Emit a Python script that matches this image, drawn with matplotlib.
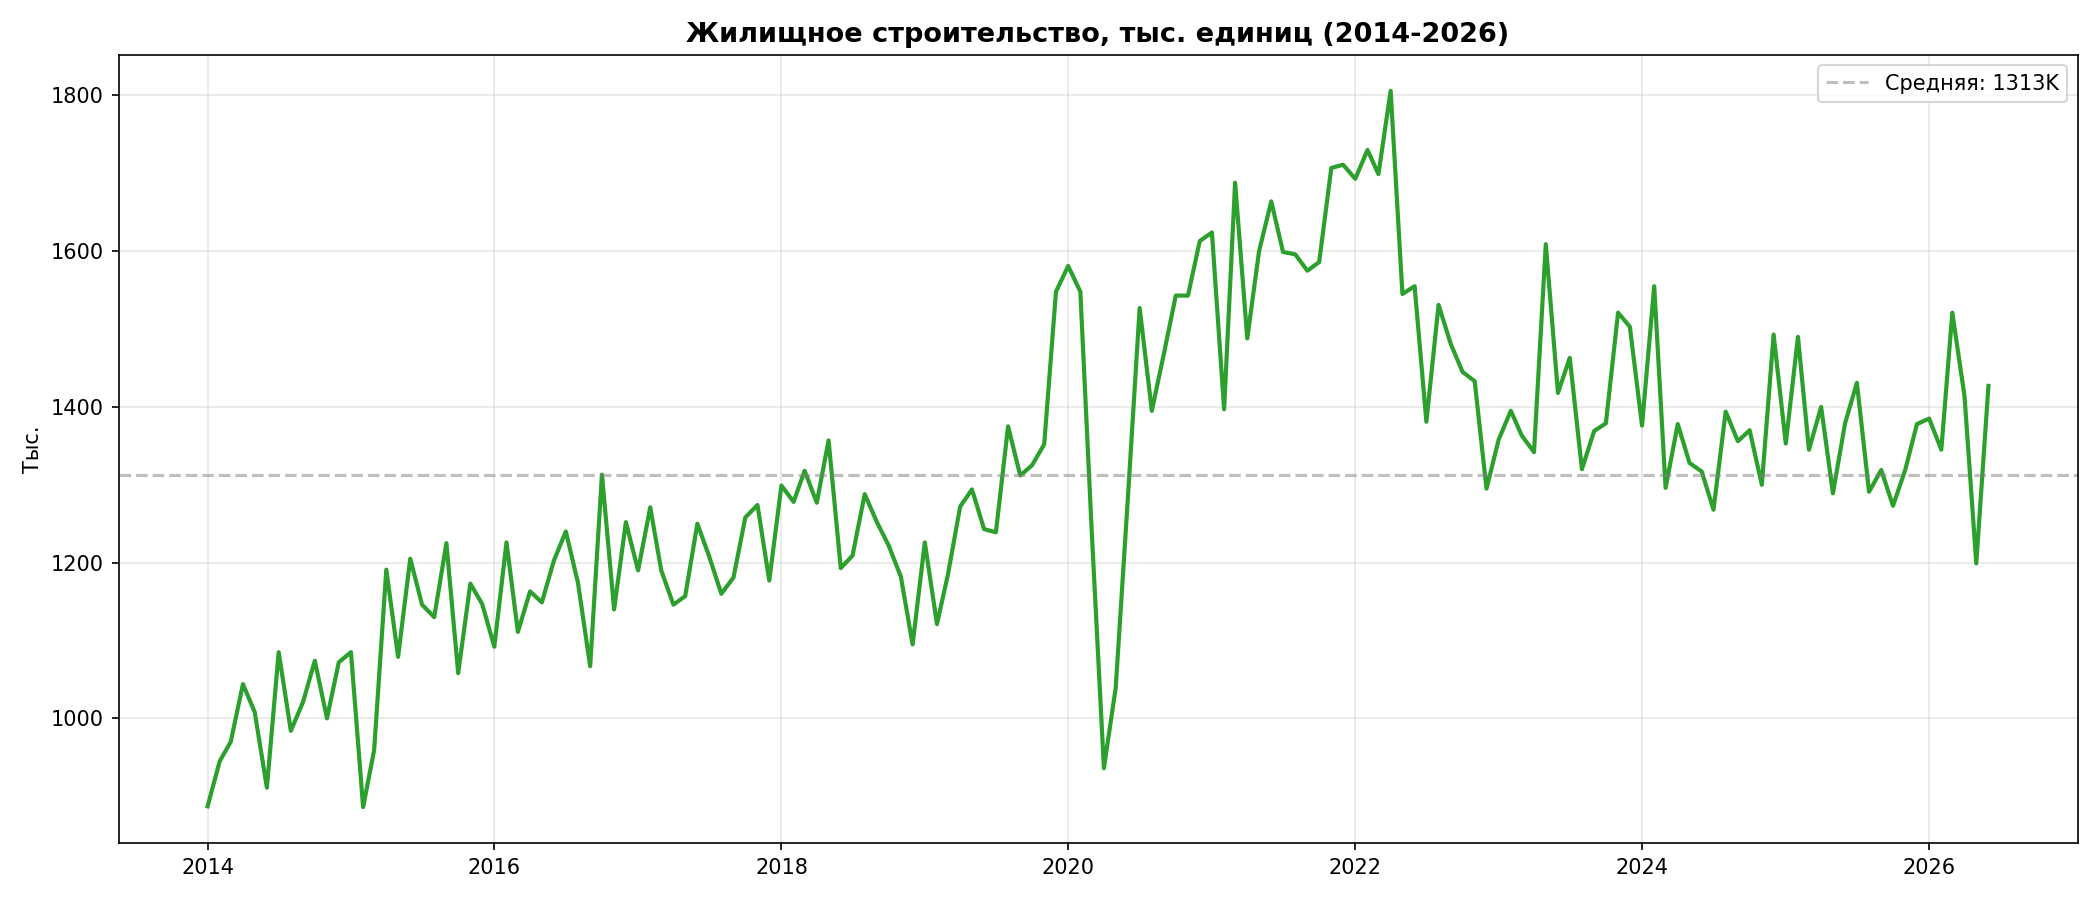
import matplotlib
matplotlib.use("Agg")
import matplotlib.pyplot as plt
import matplotlib.dates as mdates
import numpy as np
import pandas as pd

# monthly housing starts, thousands, 2014-01 .. 2026-06
start_month = "2014-01-01"
housing_starts = [
    887, 945, 970, 1044, 1008, 911, 1085, 984, 1021, 1074, 1000, 1072,      # 2014
    1085, 886, 959, 1191, 1079, 1205, 1146, 1130, 1225, 1058, 1173, 1147,   # 2015
    1092, 1226, 1111, 1163, 1149, 1203, 1240, 1174, 1067, 1313, 1140, 1252, # 2016
    1190, 1271, 1190, 1146, 1157, 1250, 1208, 1160, 1181, 1258, 1274, 1177, # 2017
    1299, 1278, 1318, 1277, 1357, 1193, 1209, 1288, 1252, 1222, 1182, 1095, # 2018
    1226, 1121, 1185, 1272, 1294, 1243, 1239, 1375, 1312, 1325, 1352, 1548, # 2019
    1581, 1548, 1240, 936, 1039, 1283, 1527, 1395, 1469, 1543, 1543, 1613,  # 2020
    1624, 1397, 1688, 1488, 1600, 1664, 1599, 1596, 1575, 1586, 1707, 1711, # 2021
    1693, 1730, 1699, 1806, 1545, 1555, 1381, 1531, 1481, 1445, 1433, 1295, # 2022
    1358, 1395, 1363, 1342, 1609, 1418, 1463, 1320, 1369, 1379, 1521, 1503, # 2023
    1376, 1555, 1296, 1378, 1328, 1317, 1268, 1394, 1356, 1370, 1300, 1493, # 2024
    1353, 1490, 1345, 1400, 1289, 1379, 1431, 1291, 1319, 1273, 1319, 1378, # 2025
    1385, 1345, 1521, 1414, 1199, 1427,                                     # 2026
]

title = "Жилищное строительство, тыс. единиц (2014-2026)"
y_label = "Тыс."

dates = pd.date_range(start_month, periods=len(housing_starts), freq="MS")
values = np.array(housing_starts, dtype=float)
mean_value = values.mean()

fig, ax = plt.subplots(figsize=(14, 6), dpi=150)
ax.plot(dates, values, color="#2ca02c", linewidth=2)
ax.axhline(mean_value, color="gray", linestyle="--", alpha=0.5,
           label=f"Средняя: {mean_value:.0f}K")

ax.set_title(title, fontsize=13, fontweight="bold")
ax.set_ylabel(y_label)
ax.xaxis.set_major_locator(mdates.YearLocator(2))
ax.xaxis.set_major_formatter(mdates.DateFormatter("%Y"))
ax.grid(True, alpha=0.3)
ax.legend(loc="upper right")

fig.tight_layout()
fig.savefig("out.png", dpi=150)
plt.close(fig)
